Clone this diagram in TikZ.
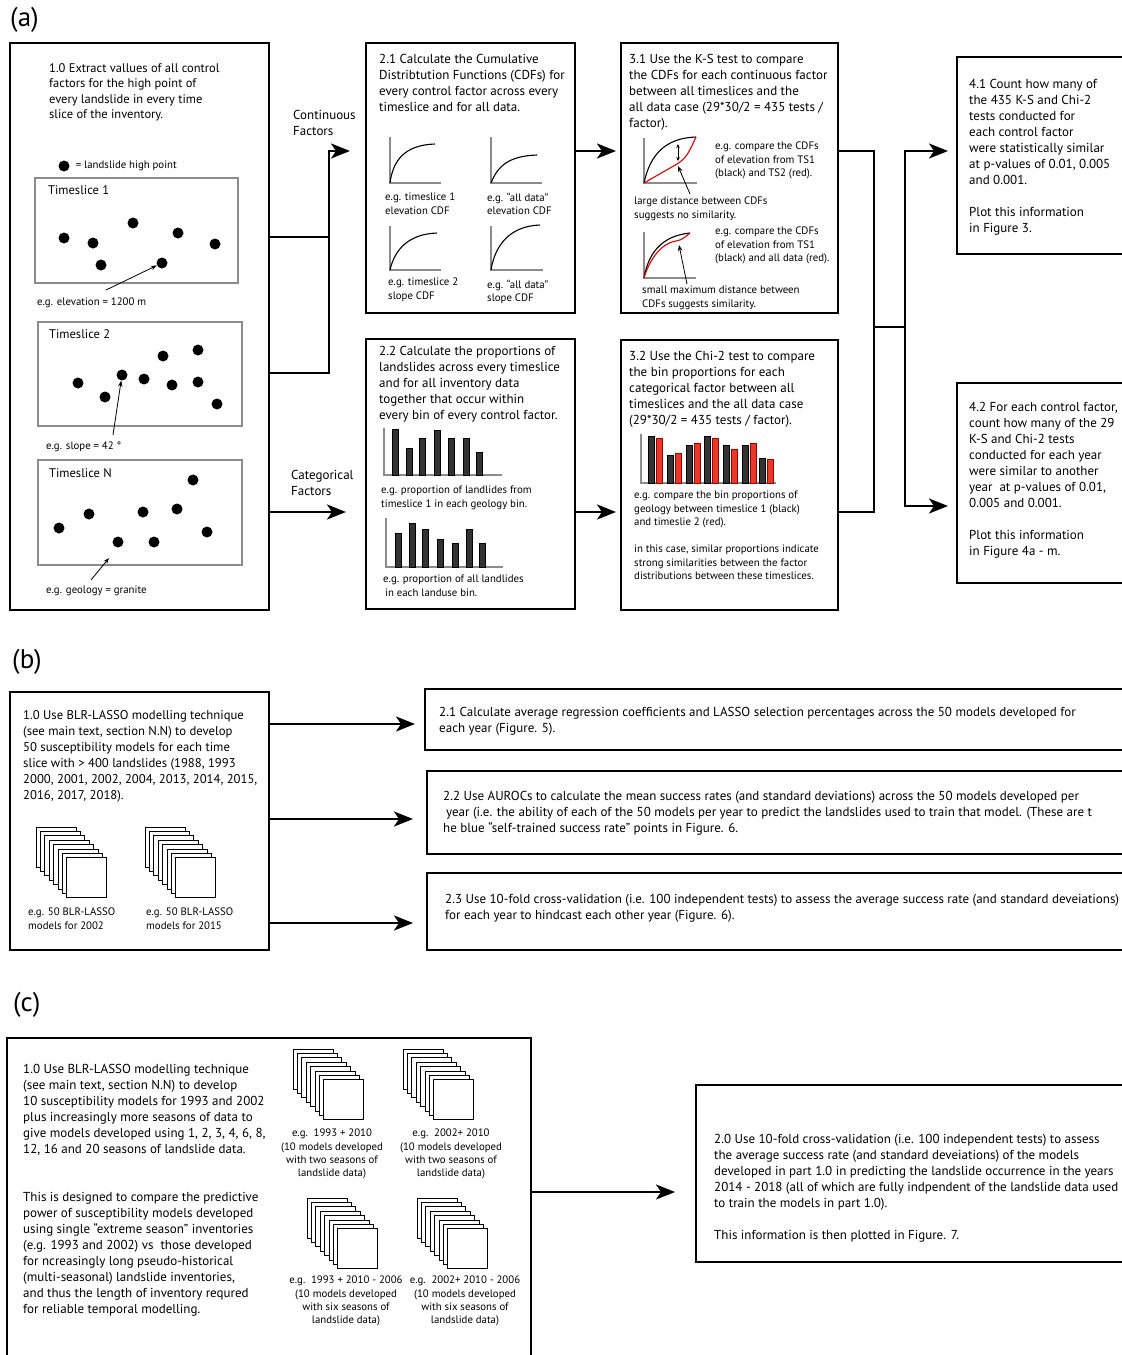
\documentclass[tikz,border=0pt]{standalone}
\usepackage{fontspec}
\setmainfont{PT Sans}
\usetikzlibrary{arrows.meta,positioning,fit}
\definecolor{barred}{RGB}{232,56,42}
\definecolor{framegray}{gray}{0.55}

\begin{document}
\begin{tikzpicture}[x=1pt,y=-1pt,
    >={Stealth[length=19pt,width=15pt,inset=5pt]},
    box/.style={draw,line width=2pt,inner sep=0pt},
    slice/.style={draw=framegray,line width=2pt,inner sep=0pt},
    txt/.style={inner sep=0pt,align=left,font=\fontsize{13}{16}\selectfont},
    title/.style={inner sep=0pt,align=left,font=\fontsize{12.5}{16}\selectfont},
    lbl/.style={inner sep=0pt,align=left,font=\fontsize{10.8}{13.2}\selectfont},
    clbl/.style={inner sep=0pt,align=center,anchor=north,font=\fontsize{10.8}{13.2}\selectfont},
    tag/.style={anchor=west,inner sep=0pt,font=\fontsize{27}{30}\selectfont},
    link/.style={line width=2.4pt},
    flow/.style={line width=2.4pt,->},
    pointer/.style={line width=0.8pt,-{Stealth[length=6pt,width=4.5pt]}},
    axis/.style={draw=framegray,line width=1.6pt},
    cdf/.style={line width=1.1pt},
    sheet/.style={draw,fill=white,line width=0.9pt},
    dot/.style={circle,fill,inner sep=0pt,minimum size=11pt},
    bar/.style={draw,fill=black!80,line width=0.6pt},
    redbar/.style={draw=red!60!black,fill=barred,line width=0.6pt}]
  \useasboundingbox (0,0) rectangle (1122,1355);
  \fill[white] (0,0) rectangle (1122,1355);

  % ---------------- (a)
  \node[tag] (ta) at (10,20) {(a)};
  \node[box,fit={(10,43) (269,610)}] (a1) {};
  \node[txt,font=\fontsize{12.5}{15.6}\selectfont,below right=21pt and 40pt of a1.north west]
    {1.0 Extract vallues of all control\\factors for the high point of\\every landslide in every time\\slice of the inventory.};
  \node[dot] (key) at (64,166) {};
  \node[lbl,right=6pt of key] {= landslide high point};

  \node[slice,fit={(35,178) (238,283)}] (t1) {};
  \node[title,below right=8pt and 14pt of t1.north west] {Timeslice 1};
  \foreach \x/\y [count=\i] in {64/238,93/243,133/223,178/233,215/244,101/265,162/263}
    \node[dot] (t1-\i) at (\x,\y) {};
  \node[lbl,below right=14pt and 3pt of t1.south west] (el) {e.g. elevation = 1200 m};
  \coordinate (e1) at (106,290);
  \draw[pointer] (e1) -- (t1-7);

  \node[slice,fit={(38,322) (242,426)}] (t2) {};
  \node[title,below right=8pt and 12pt of t2.north west] {Timeslice 2};
  \foreach \x/\y [count=\i] in {78/383,105/397,122/375,144/379,163/356,172/385,198/350,198/382,217/404}
    \node[dot] (t2-\i) at (\x,\y) {};
  \node[lbl,below right=15pt and 9pt of t2.south west] (sl) {e.g. slope = 42 °};
  \coordinate (s1) at (113,435);
  \draw[pointer] (s1) -- (t2-3);

  \node[slice,fit={(38,460) (242,565)}] (t3) {};
  \node[title,below right=9pt and 12pt of t3.north west] {Timeslice N};
  \foreach \x/\y [count=\i] in {59/528,89/514,143/512,177/509,193/480,207/532,118/542,154/542}
    \node[dot] (t3-\i) at (\x,\y) {};
  \node[lbl,below right=20pt and 9pt of t3.south west] (ge) {e.g. geology = granite};
  \coordinate (g1) at (91,580);
  \coordinate (g2) at (109,558);
  \draw[pointer] (g1) -- (g2);

  % 2.1 / 2.2
  \node[box,fit={(366,43) (575,313)}] (a21) {};
  \node[txt,below right=12pt and 14pt of a21.north west]
    {2.1 Calculate the Cumulative\\Distribtution Functions (CDFs) for\\every control factor across every\\timeslice and for all data.};
  \draw[axis] (390,137) -- (390,183) -- (441,183);
  \draw[cdf] (390,183) .. controls (393,160) and (405,145) .. (435,144);
  \draw[axis] (491,137) -- (491,183) -- (542,183);
  \draw[cdf] (491,183) .. controls (498,165) and (510,156) .. (537,155);
  \draw[axis] (390,226) -- (390,270) -- (441,270);
  \draw[cdf] (390,270) .. controls (395,248) and (410,234) .. (437,233);
  \draw[axis] (491,226) -- (491,270) -- (543,270);
  \draw[cdf] (491,270) .. controls (495,245) and (510,226) .. (540,225);
  \node[lbl,anchor=north west] at (385,193) {e.g. timeslice 1\\elevation CDF};
  \node[lbl,anchor=north west] at (487,193) {e.g. ``all data''\\elevation CDF};
  \node[lbl,anchor=north west] at (388,278) {e.g. timeslice 2\\slope CDF};
  \node[lbl,anchor=north west] at (487,280) {e.g. ``all data''\\slope CDF};

  \node[box,fit={(366,339) (575,609)}] (a22) {};
  \node[txt,below right=8pt and 14pt of a22.north west]
    {2.2 Calculate the proportions of\\landslides across every timeslice\\and for all inventory data\\together that occur within\\every bin of every control factor.};
  \draw[axis] (384,428) -- (384,475) -- (502,475);
  \foreach \x/\t in {395/429,409/448,422/438,437/430,451/438,466/438,479/452}
    \draw[bar] (\x-3,475) rectangle (\x+3,\t);
  \draw[axis] (386,518) -- (386,567) -- (503,567);
  \foreach \x/\t in {398/533,412/523,425/529,440/539,455/543,469/529,482/543}
    \draw[bar] (\x-3,567) rectangle (\x+3,\t);
  \node[lbl,anchor=north west] at (381,486) {e.g. proportion of landlides from\\timeslice 1 in each geology bin.};
  \node[lbl,anchor=north west] at (383,575) {e.g. proportion of all landlides\\\hspace{2pt}in each landuse bin.};

  % 3.1 / 3.2
  \node[box,fit={(621,43) (838,313)}] (a31) {};
  \node[txt,below right=12pt and 9pt of a31.north west]
    {3.1 Use the K-S test to compare\\the CDFs for each continuous factor\\between all timeslices and the\\all data case (29*30/2 = 435 tests /\\factor).};
  \draw[axis] (644,138) -- (644,183) -- (697,183);
  \draw[cdf] (644,183) .. controls (650,155) and (665,138) .. (696,137);
  \draw[cdf,red!85!black] (644,183) -- (677,164) .. controls (687,158) and (690,150) .. (696,137);
  \draw[line width=0.7pt,{Stealth[length=4pt,width=3.5pt]}-{Stealth[length=4pt,width=3.5pt]}] (678,144) -- (678,161);
  \coordinate (k1) at (690,194);
  \coordinate (k2) at (678,166);
  \draw[pointer] (k1) -- (k2);
  \node[lbl,anchor=north west] at (715,142) {e.g. compare the CDFs\\of elevation from TS1\\(black) and TS2 (red).};
  \node[lbl,anchor=north west] at (634,197) {large distance between CDFs\\suggests no similarity.};
  \draw[axis] (644,232) -- (644,278) -- (696,278);
  \draw[cdf] (644,278) .. controls (648,255) and (660,236) .. (690,233);
  \draw[cdf,red!85!black] (644,278) .. controls (650,258) and (662,243) .. (676,241) .. controls (683,240) and (686,236) .. (690,233);
  \coordinate (k3) at (687,284);
  \coordinate (k4) at (679,245);
  \draw[pointer] (k3) -- (k4);
  \node[lbl,anchor=north west] at (715,227) {e.g. compare the CDFs\\of elevation from TS1\\(black) and all data (red).};
  \node[lbl,anchor=north west] at (642,286) {small maximum distance between\\CDFs suggests similarity.};

  \node[box,fit={(621,340) (838,610)}] (a32) {};
  \node[txt,below right=12pt and 9pt of a32.north west]
    {3.2 Use the Chi-2 test to compare\\the bin proportions for each\\categorical factor between all\\timeslices and the all data case\\(29*30/2 = 435 tests / factor).};
  \draw[axis] (641,434) -- (641,483) -- (776,483);
  \foreach \x/\t/\u in {651/436/438,670/455/453,689/445/443,707/436/438,726/445/449,745/445/443,762/458/459} {
    \draw[bar] (\x-3.2,483) rectangle (\x+3.2,\t);
    \draw[redbar] (\x+4.8,483) rectangle (\x+11.2,\u);
  }
  \node[lbl,anchor=north west] at (634,491) {e.g. compare the bin proportions of\\geology between timeslice 1 (black)\\and timeslie 2 (red).};
  \node[lbl,anchor=north west] at (634,545) {in this case, similar proportions indicate\\strong similarities between the factor\\distributions between these timeslices.};

  % 4.1 / 4.2
  \node[box,fit={(957,57) (1130,254)}] (a41) {};
  \node[txt,below right=23pt and 13pt of a41.north west]
    {4.1 Count how many of\\the 435 K-S and Chi-2\\tests conducted for\\each control factor\\were statistically similar\\at p-values of 0.01, 0.005\\and 0.001.\\[16pt]Plot this information\\in Figure 3.};
  \node[box,fit={(957,383) (1130,583)}] (a42) {};
  \node[txt,below right=20pt and 13pt of a42.north west]
    {4.2 For each control factor,\\count how many of the 29\\K-S and Chi-2 tests\\conducted for each year\\were similar to another\\year\ \ at p-values of 0.01,\\0.005 and 0.001.\\[16pt]Plot this information\\in Figure 4a - m.};

  % connectors (a)
  \coordinate (j1) at (329,237);
  \coordinate (j2) at (329,373);
  \coordinate (j3) at (329,151);
  \coordinate (j4) at (329,512);
  \draw[link] (a1.east |- j1) -- (j1);
  \draw[flow,shorten >=15pt] (a1.east |- j2) -- (j2) -- (j3) -- (a21.west |- j3);
  \node[txt,anchor=north west] at (293,110) {Continuous\\Factors};
  \draw[flow,shorten >=19pt] (a1.east |- j4) -- (a22.west |- j4);
  \node[txt,anchor=north west] at (291,470) {Categorical\\Factors};
  \draw[flow,shorten >=4pt] (a21.east |- j3) -- (a31.west |- j3);
  \draw[flow,shorten >=4pt] (a22.east |- j4) -- (a32.west |- j4);
  \coordinate (m1) at (874,151);
  \coordinate (m2) at (874,512);
  \coordinate (m3) at (874,327);
  \coordinate (m4) at (905,327);
  \coordinate (m5) at (905,151);
  \coordinate (m6) at (905,506);
  \draw[link] (a31.east |- m1) -- (m1) -- (m2) -- (a32.east |- m2);
  \draw[link] (m3) -- (m4);
  \draw[flow,shorten >=8pt] (m6) -- (m5) -- (a41.west |- m5);
  \draw[flow,shorten >=8pt] (m5) -- (m6) -- (a42.west |- m6);

  % ---------------- (b)
  \node[tag] (tb) at (12,662) {(b)};
  \node[box,fit={(10,692) (269,950)}] (b1) {};
  \node[txt,font=\fontsize{12.7}{16}\selectfont,below right=19pt and 14pt of b1.north west]
    {1.0 Use BLR-LASSO modelling technique\\(see main text, section N.N) to develop\\50 susceptibility models for each time\\slice with > 400 landslides (1988, 1993\\2000, 2001, 2002, 2004, 2013, 2014, 2015,\\2016, 2017, 2018).};
  \foreach \x/\y in {36/827,145/827}
    \foreach \k in {0,...,7}
      \draw[sheet] (\x+4.4*\k,\y+4.4*\k) rectangle ++(40,40);
  \node[lbl,anchor=north west] at (28,908) {e.g. 50 BLR-LASSO\\models for 2002};
  \node[lbl,anchor=north west] at (146,908) {e.g. 50 BLR-LASSO\\models for 2015};

  \node[box,fit={(425,689) (1130,750)}] (b21) {};
  \node[txt,below right=19pt and 15pt of b21.north west]
    {2.1 Calculate average regression coefficients and LASSO selection percentages across the 50 models developed for\\each year (Figure. 5).};
  \node[box,fit={(427,771) (1130,854)}] (b22) {};
  \node[txt,below right=21pt and 17pt of b22.north west]
    {2.2 Use AUROCs to calculate the mean success rates (and standard deviations) across the 50 models developed per\\\hspace{3pt}year (i.e. the ability of each of the 50 models per year to predict the landslides used to train that model. (These are t\\he blue “self-trained success rate” points in Figure. 6.};
  \node[box,fit={(427,873) (1130,950)}] (b23) {};
  \node[txt,below right=22pt and 19pt of b23.north west]
    {2.3 Use 10-fold cross-validation (i.e. 100 independent tests) to assess the average success rate (and standard deveiations)\\for each year to hindcast each other year (Figure. 6).};

  \coordinate (n1) at (300,724);
  \coordinate (n2) at (300,819);
  \coordinate (n3) at (300,923);
  \draw[flow,shorten >=9pt] (b1.east |- n1) -- (b21.west |- n1);
  \draw[flow,shorten >=13pt] (b1.east |- n2) -- (b22.west |- n2);
  \draw[flow,shorten >=13pt] (b1.east |- n3) -- (b23.west |- n3);

  % ---------------- (c)
  \node[tag] (tc) at (13,1005) {(c)};
  \node[box,fit={(7,1038) (531,1370)}] (c1) {};
  \node[txt,below right=27pt and 17pt of c1.north west] (c1a)
    {1.0 Use BLR-LASSO modelling technique\\(see main text, section N.N) to develop\\10 susceptibility models for 1993 and 2002\\plus increasingly more seasons of data to\\give models developed using 1, 2, 3, 4, 6, 8,\\12, 16 and 20 seasons of landslide data.};
  \node[txt,below right=155pt and 17pt of c1.north west] (c1b)
    {This is designed to compare the predictive\\power of susceptibility models developed\\using single “extreme season” inventories\\(e.g. 1993 and 2002) vs\ \ those developed\\for ncreasingly long pseudo-historical\\(multi-seasonal) landslide inventories,\\and thus the length of inventory requred\\for reliable temporal modelling.};
  \foreach \x/\y in {293/1049,403/1049,307/1198,417/1198}
    \foreach \k in {0,...,7}
      \draw[sheet] (\x+4.4*\k,\y+4.4*\k) rectangle ++(40,40);
  \node[clbl] at (332,1129) {e.g.\ \ 1993 + 2010\\(10 models developed\\with two seasons of\\landslide data)};
  \node[clbl] at (451,1129) {e.g.\ \ 2002+ 2010\\(10 models developed\\with two seasons of\\landslide data)};
  \node[clbl] at (346,1276) {e.g.\ \ 1993 + 2010 - 2006\\(10 models developed\\with six seasons of\\landslide data)};
  \node[clbl] at (465,1276) {e.g.\ \ 2002+ 2010 - 2006\\(10 models developed\\with six seasons of\\landslide data)};

  \node[box,fit={(696,1085) (1130,1262)}] (c2) {};
  \node[txt,below right=50pt and 19pt of c2.north west]
    {2.0 Use 10-fold cross-validation (i.e. 100 independent tests) to assess\\the average success rate (and standard deveiations) of the models\\developed in part 1.0 in predicting the landslide occurrence in the years\\2014 - 2018 (all of which are fully indpendent of the landslide data used\\to train the models in part 1.0).\\[16pt]This information is then plotted in Figure. 7.};
  \coordinate (q1) at (600,1192);
  \draw[flow,shorten >=20pt] (c1.east |- q1) -- (c2.west |- q1);
\end{tikzpicture}
\end{document}
